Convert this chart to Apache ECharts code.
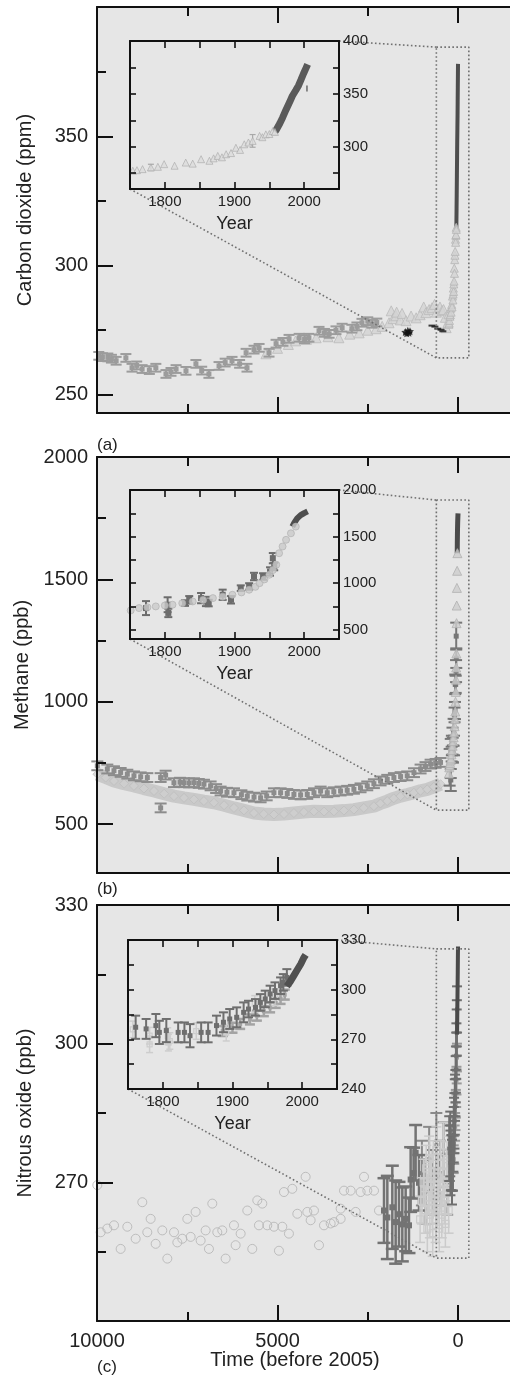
<!DOCTYPE html>
<html><head><meta charset="utf-8">
<script src="https://cdn.jsdelivr.net/npm/echarts@6/dist/echarts.min.js"></script>
<style>html,body{margin:0;padding:0;background:#fff}#c{width:510px;height:1376px}</style>
</head><body><div id="c"></div>
<script>
// ================= DATA =================
// ---- Panel (a) carbon dioxide, main plot (years before 2005) ----
const co2CoreYears  = [9950,9850,9700,9600,9470,9200,9030,8900,8750,8550,8370,8090,7950,7810,7535,7260,7100,6900,6620,6450,6260,6050,5870,5845,5650,5510,5235,5040,4850,4680,4400,4250,4130,3850,3700,3570,3380,3210,2940,2800,2660,2500,2380,2250];
const co2CoreValues = [265.1,264.6,264.5,264.0,263.2,264.3,260.5,261.4,260.0,259.6,260.5,258.1,258.9,260.0,259.3,262.0,259.4,258.1,261.2,262.5,263.2,262.0,266.3,260.5,267.5,268.2,266.3,269.8,270.5,271.7,272.1,271.5,272.1,274.8,274.0,273.6,275.0,276.0,275.6,276.5,277.9,278.5,277.5,278.0];
const co2CoreErr = 1.5;
const co2TriYears  = [5320,5000,4700,4500,4200,3930,3600,3300,3000,2740,2500,2270,2100,1910,1850,1800,1720,1700,1600,1550,1440,1300,1160,1050,950,890,800,720,650,600,500,440,400,350,330,280,250];
const co2TriValues = [265.9,268.0,269.5,270.9,271.5,272.1,272.5,272.1,273.5,274.0,275.0,275.6,276.5,277.9,282.5,279.5,280.6,282.0,279.0,281.5,278.7,280.5,279.8,281.0,284.0,281.8,283.0,283.7,285.0,282.0,284.0,282.6,283.0,280.0,276.0,278.0,281.4];
const co2StarYears  = [1460,1420,1390,1360,1330];
const co2StarValues = [274.3,273.8,274.8,274.0,274.6];
const co2DashYears  = [720,640,560,470,420];
const co2DashValues = [276.8,276.4,275.6,275.2,274.6];
const co2Box = [600, -300, 264.3, 384.5];           // zoom box: years from, years to, ppm low, ppm high
// ---- Panel (a) inset (calendar years) ----
const co2LawYears  = [1754,1760,1768,1780,1790,1799,1814,1830,1840,1852,1864,1870,1876,1882,1888,1895,1902,1908,1914,1920,1926,1936,1940,1945,1950,1955,1958];
const co2LawValues = [277.3,277.8,278.8,280.4,281.0,283.5,282.0,285.0,284.0,288.2,286.7,289.0,291.3,290.0,292.9,294.0,299.0,297.0,302.3,304.0,305.5,310.2,309.0,311.7,312.0,314.8,314.0];
const co2LawErr    = [0,0,0,3,0,0,0,0,0,0,0,0,0,0,0,0,0,0,0,0,6,0,0,0,0,0,0];
const co2AtmYears  = [1958,1960,1965,1969,1974,1979,1983,1988,1992,1995.5,1999,2002.6,2005];
const co2AtmValues = [314,316,322,327.5,335,342,348,353.4,358,363.4,369,374.3,378];
const co2LoneYears = [2004];
const co2LoneValues = [355];

// ---- Panel (b) methane, main plot ----
const ch4DarkYears  = [9991,9714,9530,9345,9160,8976,8790,8606,8237,8237,8099,7868,7700,7591,7450,7314,7180,7037,6853,6700,6576,6400,6206,6000,5837,5650,5468,5300,5099,4914,4730,4545,4360,4176,3990,3806,3622,3440,3253,3070,2884,2700,2514,2330,2145,1960,1776,1590,1407,1220,1037,900,760,620,484];
const ch4DarkValues = [738,725,718,711,704,697,693,690,690,566,700,669,671,669,668,669,666,663,656,645,635,630,628,620,614,610,607,615,628,628,625,621,619,621,628,635,628,632,635,638,642,648,656,665,676,683,690,694,697,710,725,735,745,748,752];
const ch4DarkErr = 18;
const ch4LightYears  = [9991,9760,9529,9250,8976,8700,8421,8140,7868,7590,7314,7040,6760,6480,6206,5930,5652,5380,5099,4820,4545,4270,3991,3710,3437,3160,2884,2610,2330,2150,1961,1780,1592,1400,1222,1040,853,670,484];
const ch4LightValues = [704,690,676,665,656,645,635,624,614,607,601,594,587,577,566,556,545,541,539,541,545,549,552,551,552,555,559,566,573,584,594,605,614,621,628,636,642,652,663];
const ch4Box = [600, -300, 557, 1824];
// ---- Panel (b) inset ----
const ch4IceYears  = [1751,1763,1775,1787,1800,1811,1825,1840,1855,1869,1883,1897,1910,1921,1930,1936,1943,1950,1955,1960,1964,1969,1974,1981,1988];
const ch4IceValues = [707,732,740,750,760,768,785,803,820,839,855,875,900,929,960,1000,1040,1090,1140,1197,1321,1393,1465,1535,1607];
const ch4CoreYears  = [1773,1804,1805,1829,1835,1852,1859,1863,1883,1895,1909,1921,1928,1941,1951,1955,1957];
const ch4CoreValues = [732,768,680,786,821,839,803,786,875,821,946,964,1071,1071,1125,1268,1178];
const ch4CoreErr    = [75,80,45,30,40,55,50,35,55,40,30,35,40,35,45,55,40];
const ch4AtmYears  = [1983,1986,1990,1995,2000,2005];
const ch4AtmValues = [1607,1650,1695,1730,1752,1770];

// ---- Panel (c) nitrous oxide, main plot ----
const n2oHoloYears  = [9991,9898,9714,9529,9345,9160,8929,8745,8607,8514,8375,8191,8052,7867,7775,7637,7498,7406,7268,7129,6991,6899,6806,6668,6530,6437,6206,6160,6021,5837,5699,5560,5514,5421,5283,5098,4960,4867,4821,4683,4590,4451,4221,4174,4082,3990,3851,3712,3528,3435,3251,3251,3158,2974,2835,2697,2604,2512,2327,2189];
const n2oHoloValues = [269.4,259.2,260.0,260.7,255.6,260.4,257.8,265.7,259.2,262.1,256.7,259.6,253.5,259.2,257.0,257.8,262.1,258.2,263.6,257.4,259.6,255.6,265.4,259.2,259.6,253.5,260.7,256.4,258.9,263.9,255.6,266.1,260.7,265.4,260.7,260.4,255.2,260.4,267.9,258.9,268.6,263.2,271.2,263.6,261.8,263.9,256.4,260.7,261.1,261.4,262.1,264.3,268.2,268.2,263.6,267.9,271.2,268.2,268.2,263.9];
const n2oDarkYears  = [2050,1958,1820,1727,1635,1543,1450,1358,1312,1230,1174,1081];
const n2oDarkValues = [263.9,262.4,264.6,261.4,263.1,260.9,262.1,260.7,270.6,272.0,276.4,269.9];
const n2oDarkErr    = [7,9,9,9,7,8,7,6,7,5.5,6,6];
const n2oSqYears  = [1050,1000,950,900,880,850,820,800,780,750,720,700,680,650,620,600,580,550,520,500,480,450,420,400,380,350,320,300,280,260];
const n2oSqValues = [262,266,270,264,273,260,268,275,263,271,266,259,274,268,262,277,265,271,260,268,274,263,270,278,266,261,272,268,275,264];
const n2oMidYears  = [1000,900,800,700,600,500,400,300];
const n2oMidValues = [272,268,275,270,278,272,276,270];
const n2oBox = [600, -300, 253.6, 320.5];
// ---- Panel (c) inset ----
const n2oCoreYears  = [1761,1776,1790,1795,1805,1822,1831,1839,1855,1865,1877,1887,1896,1906,1916,1923,1933,1940,1947,1954,1961,1969,1973,1978];
const n2oCoreValues = [277.3,276.3,278.3,274.2,275.3,274.2,274.2,272.2,274.2,274.2,278.3,280.3,282.3,283.3,286.3,288.3,289.3,292.3,294.4,297.4,299.4,302.4,304.4,307.4];
const n2oCoreErr    = [7,6,7,7,7,6,6,7,6,6,6,6,6,6,6,5,5,5,5,5,5,5,5,5];
const n2oFirnYears  = [1886,1900,1911,1925,1935,1945,1954,1962,1969,1975];
const n2oFirnValues = [275,277,279.3,282,284.3,287,289.3,292,294.4,297];
const n2oLightYears  = [1757,1781,1781,1807,1808,1810,1848,1891,1932,1961];
const n2oLightValues = [276,272.2,267,272,268,269,275,274,291.4,295.4];
const n2oAtmYears  = [1978,1983,1988,1993,1998,2002,2005];
const n2oAtmValues = [302,305,308.5,312,315.5,319,321];

// ---- Tick labels ----
const mainXMajor = [0,5000,10000];
const mainXMinor = [2500,7500];
const co2Major = [250,300,350], co2Minor = [275,325,375];
const ch4Major = [500,1000,1500,2000], ch4Minor = [750,1250,1750];
const n2oMajor = [270,300,330], n2oMinor = [255,285,315];
const insetYearLabels = [1800,1900,2000];
const insetYearTicks = [1800,1850,1900,1950,2000];
const co2InsetLabels = [300,350,400], co2InsetTicks = [275,300,325,350,375];
const ch4InsetLabels = [500,1000,1500,2000], ch4InsetTicks = [500,750,1000,1250,1500,1750];
const n2oInsetLabels = [240,270,300,330], n2oInsetTicks = [255,270,285,300,315];

// ================= CHART =================
const FONT = '"Liberation Sans", Arial, Helvetica, sans-serif';
const BG = '#e6e6e6';
const INK = '#111';
const TXT = '#222';
const X_MIN = -1440, X_MAX = 10000;   // visible time range of the main panels (right edge runs off the page)
const fmt = v => String(v);
const grids = [], xAxes = [], yAxes = [], series = [];

function addMain(top, height, yMin, yMax, yMajor, yMinor, yName, showX) {
  const g = grids.length;
  grids.push({left:97, right:0, top:top, height:height, show:true, backgroundColor:BG, borderWidth:0, z:0});
  const line = {show:true, onZero:false, lineStyle:{color:INK, width:2}};
  const noLine = {show:false, onZero:false};
  const tl = {color:INK, width:2};
  const base = {gridIndex:g, type:'value', min:X_MIN, max:X_MAX, inverse:true, z:3, splitLine:{show:false}};
  const xi = xAxes.length;
  xAxes.push(Object.assign({}, base, {position:'bottom', axisLine:line,
    axisTick:{show:true, inside:true, length:16, customValues:mainXMajor, lineStyle:tl},
    axisLabel:{show:showX, customValues:mainXMajor, formatter:fmt, margin:10, fontSize:20, color:TXT, fontFamily:FONT}}));
  xAxes.push(Object.assign({}, base, {position:'bottom', axisLine:noLine,
    axisTick:{show:true, inside:true, length:9, customValues:mainXMinor, lineStyle:tl}, axisLabel:{show:false}}));
  xAxes.push(Object.assign({}, base, {position:'top', axisLine:line,
    axisTick:{show:true, inside:true, length:16, customValues:mainXMajor, lineStyle:tl}, axisLabel:{show:false}}));
  xAxes.push(Object.assign({}, base, {position:'top', axisLine:noLine,
    axisTick:{show:true, inside:true, length:9, customValues:mainXMinor, lineStyle:tl}, axisLabel:{show:false}}));
  const ybase = {gridIndex:g, type:'value', min:yMin, max:yMax, position:'left', z:3, splitLine:{show:false}};
  const yi = yAxes.length;
  yAxes.push(Object.assign({}, ybase, {axisLine:line,
    axisTick:{show:true, inside:true, length:16, customValues:yMajor, lineStyle:tl},
    axisLabel:{customValues:yMajor, formatter:fmt, margin:9, fontSize:20, color:TXT, fontFamily:FONT},
    name:yName, nameLocation:'middle', nameGap:62, nameTextStyle:{fontSize:20, color:TXT, fontFamily:FONT}}));
  yAxes.push(Object.assign({}, ybase, {axisLine:noLine,
    axisTick:{show:true, inside:true, length:9, customValues:yMinor, lineStyle:tl}, axisLabel:{show:false}}));
  return {xi:xi, yi:yi, yMin:yMin, yMax:yMax};
}

function addInset(left, top, height, yMin, yMax, yLabels, yTicks) {
  const g = grids.length;
  grids.push({left:left, top:top, width:209, height:height, show:true, backgroundColor:BG, borderWidth:0, z:6});
  const line = {show:true, onZero:false, lineStyle:{color:INK, width:2}};
  const tl = {color:INK, width:1.6};
  const base = {gridIndex:g, type:'value', min:1750, max:2050, z:8, splitLine:{show:false}, axisLine:line};
  const xi = xAxes.length;
  xAxes.push(Object.assign({}, base, {position:'bottom',
    axisTick:{show:true, inside:true, length:7, customValues:insetYearTicks, lineStyle:tl},
    axisLabel:{customValues:insetYearLabels, formatter:fmt, margin:5, fontSize:15, color:TXT, fontFamily:FONT},
    name:'Year', nameLocation:'middle', nameGap:26, nameTextStyle:{fontSize:18, color:TXT, fontFamily:FONT}}));
  xAxes.push(Object.assign({}, base, {position:'top',
    axisTick:{show:true, inside:true, length:7, customValues:insetYearTicks, lineStyle:tl}, axisLabel:{show:false}}));
  const ybase = {gridIndex:g, type:'value', min:yMin, max:yMax, z:8, splitLine:{show:false}, axisLine:line};
  const yi = yAxes.length;
  yAxes.push(Object.assign({}, ybase, {position:'right',
    axisTick:{show:true, inside:true, length:6, customValues:yTicks, lineStyle:tl},
    axisLabel:{customValues:yLabels, formatter:fmt, margin:4, fontSize:15, color:TXT, fontFamily:FONT}}));
  yAxes.push(Object.assign({}, ybase, {position:'left',
    axisTick:{show:true, inside:true, length:6, customValues:yTicks, lineStyle:tl}, axisLabel:{show:false}}));
  return {xi:xi, yi:yi, yMin:yMin, yMax:yMax};
}

const mA = addMain(7, 406, 243, 400, co2Major, co2Minor, 'Carbon dioxide (ppm)', false);
const mB = addMain(457, 416, 300, 2000, ch4Major, ch4Minor, 'Methane (ppb)', false);
const mC = addMain(905, 416, 240, 330, n2oMajor, n2oMinor, 'Nitrous oxide (ppb)', true);
const iA = addInset(130, 41, 148, 260, 400, co2InsetLabels, co2InsetTicks);
const iB = addInset(130, 490, 149, 400, 2000, ch4InsetLabels, ch4InsetTicks);
const iC = addInset(128, 940, 149, 240, 330, n2oInsetLabels, n2oInsetTicks);

// helpers
const pairs = (xs, ys) => xs.map((x, i) => [x, ys[i]]);
const triples = (xs, ys, e) => xs.map((x, i) => [x, ys[i], Array.isArray(e) ? e[i] : e]);
const before = ys => ys.map(y => 2005 - y);

function errBar(color, cap, mark, lw, hollow) {
  return function (params, api) {
    const x = api.value(0), y = api.value(1), e = api.value(2);
    const c = api.coord([x, y]);
    const ch = [];
    if (e > 0) {
      const t = api.coord([x, y + e]), b = api.coord([x, y - e]);
      const st = {stroke:color, lineWidth:lw};
      ch.push({type:'line', shape:{x1:c[0], y1:t[1], x2:c[0], y2:b[1]}, style:st});
      ch.push({type:'line', shape:{x1:c[0]-cap/2, y1:t[1], x2:c[0]+cap/2, y2:t[1]}, style:st});
      ch.push({type:'line', shape:{x1:c[0]-cap/2, y1:b[1], x2:c[0]+cap/2, y2:b[1]}, style:st});
    }
    if (mark > 0) {
      ch.push({type:'rect', shape:{x:c[0]-mark/2, y:c[1]-mark/2, width:mark, height:mark},
        style: hollow ? {fill:'none', stroke:color, lineWidth:1.2} : {fill:color}});
    }
    return {type:'group', children:ch};
  };
}
function onAx(ax) { return {xAxisIndex:ax.xi, yAxisIndex:ax.yi}; }
function custom(ax, data, color, cap, mark, lw, z, hollow) {
  return Object.assign({type:'custom', renderItem:errBar(color, cap, mark, lw, hollow), data:data,
    encode:{x:0, y:1}, z:z, silent:true, animation:false}, onAx(ax));
}
function scatter(ax, data, symbol, size, fill, border, bw, z) {
  return Object.assign({type:'scatter', data:data, symbol:symbol, symbolSize:size,
    itemStyle:{color:fill, borderColor:border, borderWidth:bw}, z:z, silent:true, animation:false}, onAx(ax));
}
function lineS(ax, data, color, width, z, dash) {
  return Object.assign({type:'line', data:data, showSymbol:false, symbol:'none',
    lineStyle:{color:color, width:width, type: dash || 'solid', cap:'butt'}, z:z, silent:true, animation:false}, onAx(ax));
}
function boxS(ax, b) {
  const d = [[b[0], b[3]], [b[1], b[3]], [b[1], b[2]], [b[0], b[2]], [b[0], b[3]]];
  return lineS(ax, d, '#707070', 1.6, 4, [1.6, 2.4]);
}
const STAR = 'path://M0,-10L2.9,-4L9.5,-3.1L4.7,1.5L5.9,8.1L0,5L-5.9,8.1L-4.7,1.5L-9.5,-3.1L-2.9,-4Z';

// ---- Panel (a) main ----
series.push(scatter(mA, pairs(co2TriYears, co2TriValues), 'triangle', 10, '#d3d3d3', '#bababa', 1, 2));
series.push(custom(mA, triples(co2CoreYears, co2CoreValues, co2CoreErr), '#9c9c9c', 11, 5, 2, 3));
series.push(scatter(mA, pairs(co2StarYears, co2StarValues), STAR, 8, '#111', '#111', 0, 3));
series.push(scatter(mA, pairs(co2DashYears, co2DashValues), 'rect', [7, 2], '#111', '#111', 0, 3));
series.push(scatter(mA, pairs(before(co2LawYears), co2LawValues), 'triangle', 8, '#d3d3d3', '#b5b5b5', 1, 3));
series.push(lineS(mA, pairs(before(co2AtmYears), co2AtmValues), '#4e4e4e', 4, 3));
series.push(boxS(mA, co2Box));
// ---- Panel (a) inset ----
series.push(custom(iA, triples(co2LawYears, co2LawValues, co2LawErr), '#a9a9a9', 6, 0, 1.2, 7));
series.push(scatter(iA, pairs(co2LawYears, co2LawValues), 'triangle', 7, '#dcdcdc', '#a8a8a8', 0.8, 7));
series.push(lineS(iA, pairs(co2AtmYears, co2AtmValues), '#5a5a5a', 7, 7));
series.push(scatter(iA, pairs(co2LoneYears, co2LoneValues), 'rect', [1.6, 6], '#555', '#555', 0, 7));

// ---- Panel (b) main ----
series.push(lineS(mB, pairs(ch4LightYears, ch4LightValues), '#c9c9c9', 13, 2));
series.push(scatter(mB, pairs(ch4LightYears, ch4LightValues), 'diamond', 9, '#cfcfcf', '#b9b9b9', 0.8, 2));
series.push(custom(mB, triples(ch4DarkYears, ch4DarkValues, ch4DarkErr), '#8c8c8c', 12, 5, 2, 3));
series.push(scatter(mB, pairs(before(ch4IceYears), ch4IceValues), 'triangle', 9, '#cdcdcd', '#b0b0b0', 1, 3));
series.push(custom(mB, triples(before(ch4CoreYears), ch4CoreValues, ch4CoreErr), '#777777', 12, 5, 2, 3));
series.push(lineS(mB, pairs(before(ch4AtmYears), ch4AtmValues), '#4a4a4a', 5, 3));
series.push(boxS(mB, ch4Box));
// ---- Panel (b) inset ----
series.push(scatter(iB, pairs(ch4IceYears, ch4IceValues), 'circle', 7, '#cacaca', '#adadad', 0.8, 7));
series.push(custom(iB, triples(ch4CoreYears, ch4CoreValues, ch4CoreErr), '#6c6c6c', 8, 6, 2, 7));
series.push(lineS(iB, pairs(ch4AtmYears, ch4AtmValues), '#4e4e4e', 6, 7));

// ---- Panel (c) main ----
series.push(scatter(mC, pairs(n2oHoloYears, n2oHoloValues), 'circle', 9, 'rgba(0,0,0,0)', '#b3b3b3', 1, 2));
series.push(custom(mC, triples(n2oMidYears, n2oMidValues, 7), '#8a8a8a', 12, 4, 2, 3));
series.push(custom(mC, triples(n2oDarkYears, n2oDarkValues, n2oDarkErr), '#737373', 13, 6, 2.5, 3));
series.push(custom(mC, triples(n2oSqYears, n2oSqValues, 5), '#cbcbcb', 10, 7, 1.5, 4, true));
series.push(custom(mC, triples(before(n2oFirnYears), n2oFirnValues, 3), '#9a9a9a', 10, 4, 2, 4));
series.push(custom(mC, triples(before(n2oCoreYears), n2oCoreValues, n2oCoreErr), '#6f6f6f', 10, 4, 2, 4));
series.push(lineS(mC, pairs(before(n2oAtmYears), n2oAtmValues), '#4a4a4a', 4, 4));
series.push(boxS(mC, n2oBox));
// ---- Panel (c) inset ----
series.push(custom(iC, triples(n2oFirnYears, n2oFirnValues, 3), '#a3a3a3', 10, 4, 2.5, 7));
series.push(custom(iC, triples(n2oLightYears, n2oLightValues, 5), '#cdcdcd', 7, 5, 1.5, 7, true));
series.push(custom(iC, triples(n2oCoreYears, n2oCoreValues, n2oCoreErr), '#6e6e6e', 9, 5, 2, 7));
series.push(lineS(iC, pairs(n2oAtmYears, n2oAtmValues), '#505050', 7, 7));

const chart = echarts.init(document.getElementById('c'), null, {renderer:'canvas'});
chart.setOption({
  animation:false,
  backgroundColor:'#ffffff',
  textStyle:{fontFamily:FONT},
  grid:grids, xAxis:xAxes, yAxis:yAxes, series:series
});

// connector lines and panel labels
const gfx = [];
function px(ax, pt) { return chart.convertToPixel({xAxisIndex:ax.xi, yAxisIndex:ax.yi}, pt); }
[[mA, iA, co2Box], [mB, iB, ch4Box], [mC, iC, n2oBox]].forEach(function (p) {
  const m = p[0], ins = p[1], b = p[2];
  const tr = px(ins, [2050, ins.yMax]);
  const bl = px(ins, [1750, ins.yMin]);
  const rt = px(m, [b[0], b[3]]);
  const rb = px(m, [b[0], b[2]]);
  const st = {stroke:'#707070', lineWidth:1.6, lineDash:[1.6, 2.4]};
  gfx.push({type:'line', z:4, silent:true, shape:{x1:tr[0], y1:tr[1], x2:rt[0], y2:rt[1]}, style:st});
  gfx.push({type:'line', z:4, silent:true, shape:{x1:bl[0], y1:bl[1], x2:rb[0], y2:rb[1]}, style:st});
});
function label(text, x, y, size, align) {
  return {type:'text', x:x, y:y, z:10, silent:true,
    style:{text:text, fill:TXT, fontSize:size, fontFamily:FONT, align:align || 'left', verticalAlign:'middle'}};
}
gfx.push(label('(a)', 97, 445, 17));
gfx.push(label('(b)', 97, 889, 17));
gfx.push(label('(c)', 97, 1367, 17));
gfx.push(label('Time (before 2005)', 295, 1360, 20, 'center'));
chart.setOption({graphic:gfx});
</script>
</body></html>
